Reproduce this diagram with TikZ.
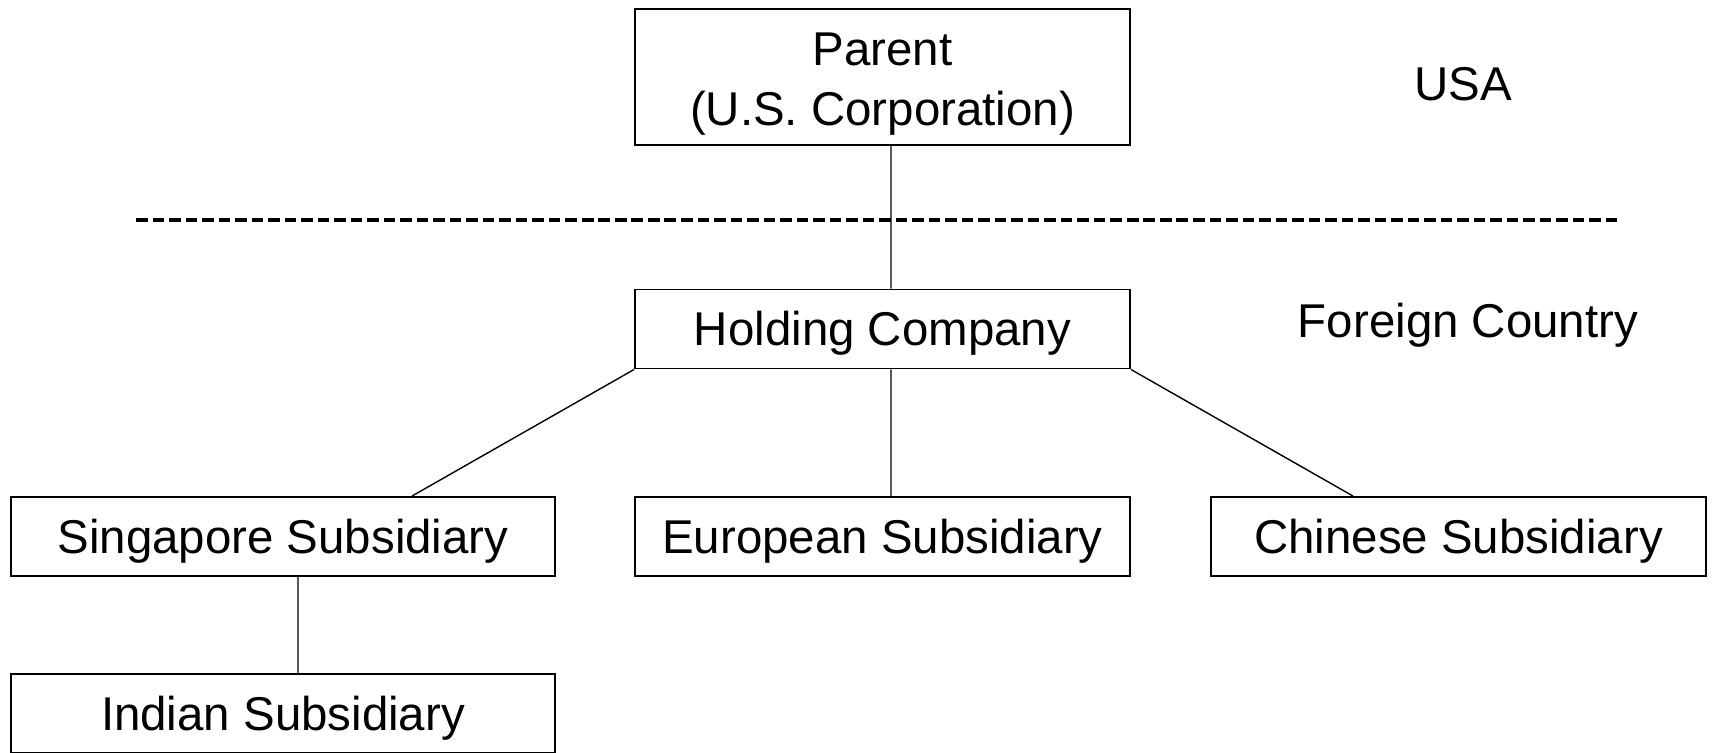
\documentclass[tikz,border=0pt]{standalone}
\usepackage{fontspec}
\setmainfont{Liberation Sans}
\usepackage{tikz}

\begin{document}
\begin{tikzpicture}[x=0.02cm,y=-0.02cm,line width=0.8pt,
  org node/.style={draw,line width=1.1pt,inner sep=0pt,align=center,minimum width=9.9cm,minimum height=1.58cm,font=\fontsize{27}{34}\selectfont},
  one line/.style={text height=25pt,text depth=6pt},
  wide node/.style={org node,minimum width=10.88cm},
  region/.style={font=\fontsize{27}{34}\selectfont}]
  \useasboundingbox (0,0) rectangle (1714,752);
  \node[org node,minimum height=2.72cm] (parent) at (882.5,77) {\rule{0pt}{26.5pt}Parent\\(U.S. Corporation)};
  \node[org node,one line] (hold) at (882.5,329) {Holding Company};
  \node[wide node,one line] (sing) at (283,536.5) {Singapore Subsidiary};
  \node[org node,one line] (euro) at (882.5,536.5) {European Subsidiary};
  \node[org node,one line] (chin) at (1458.5,536.5) {Chinese Subsidiary};
  \node[wide node,one line] (ind) at (283,713.5) {Indian Subsidiary};
  \node[region] (usa) at (1463,84) {USA};
  \node[region] (foreign) at (1468,325) {Foreign Country};
  \coordinate (left) at (136,220);
  \coordinate (right) at (1620,220);

  \draw[line width=2.2pt,dash pattern=on 6.6pt off 2.8pt] (left) -- (right);

\path[draw]
  (parent.south -| 891,0) -- (hold.north -| 891,0)
  (hold.south -| 891,0) -- (euro.north -| 891,0)
  (hold.south west) -- (sing.north -| 412,0)
  (hold.south east) -- (chin.north -| 1353,0)
  (sing.south -| 298,0) -- (ind.north -| 298,0)
;
\end{tikzpicture}
\end{document}
